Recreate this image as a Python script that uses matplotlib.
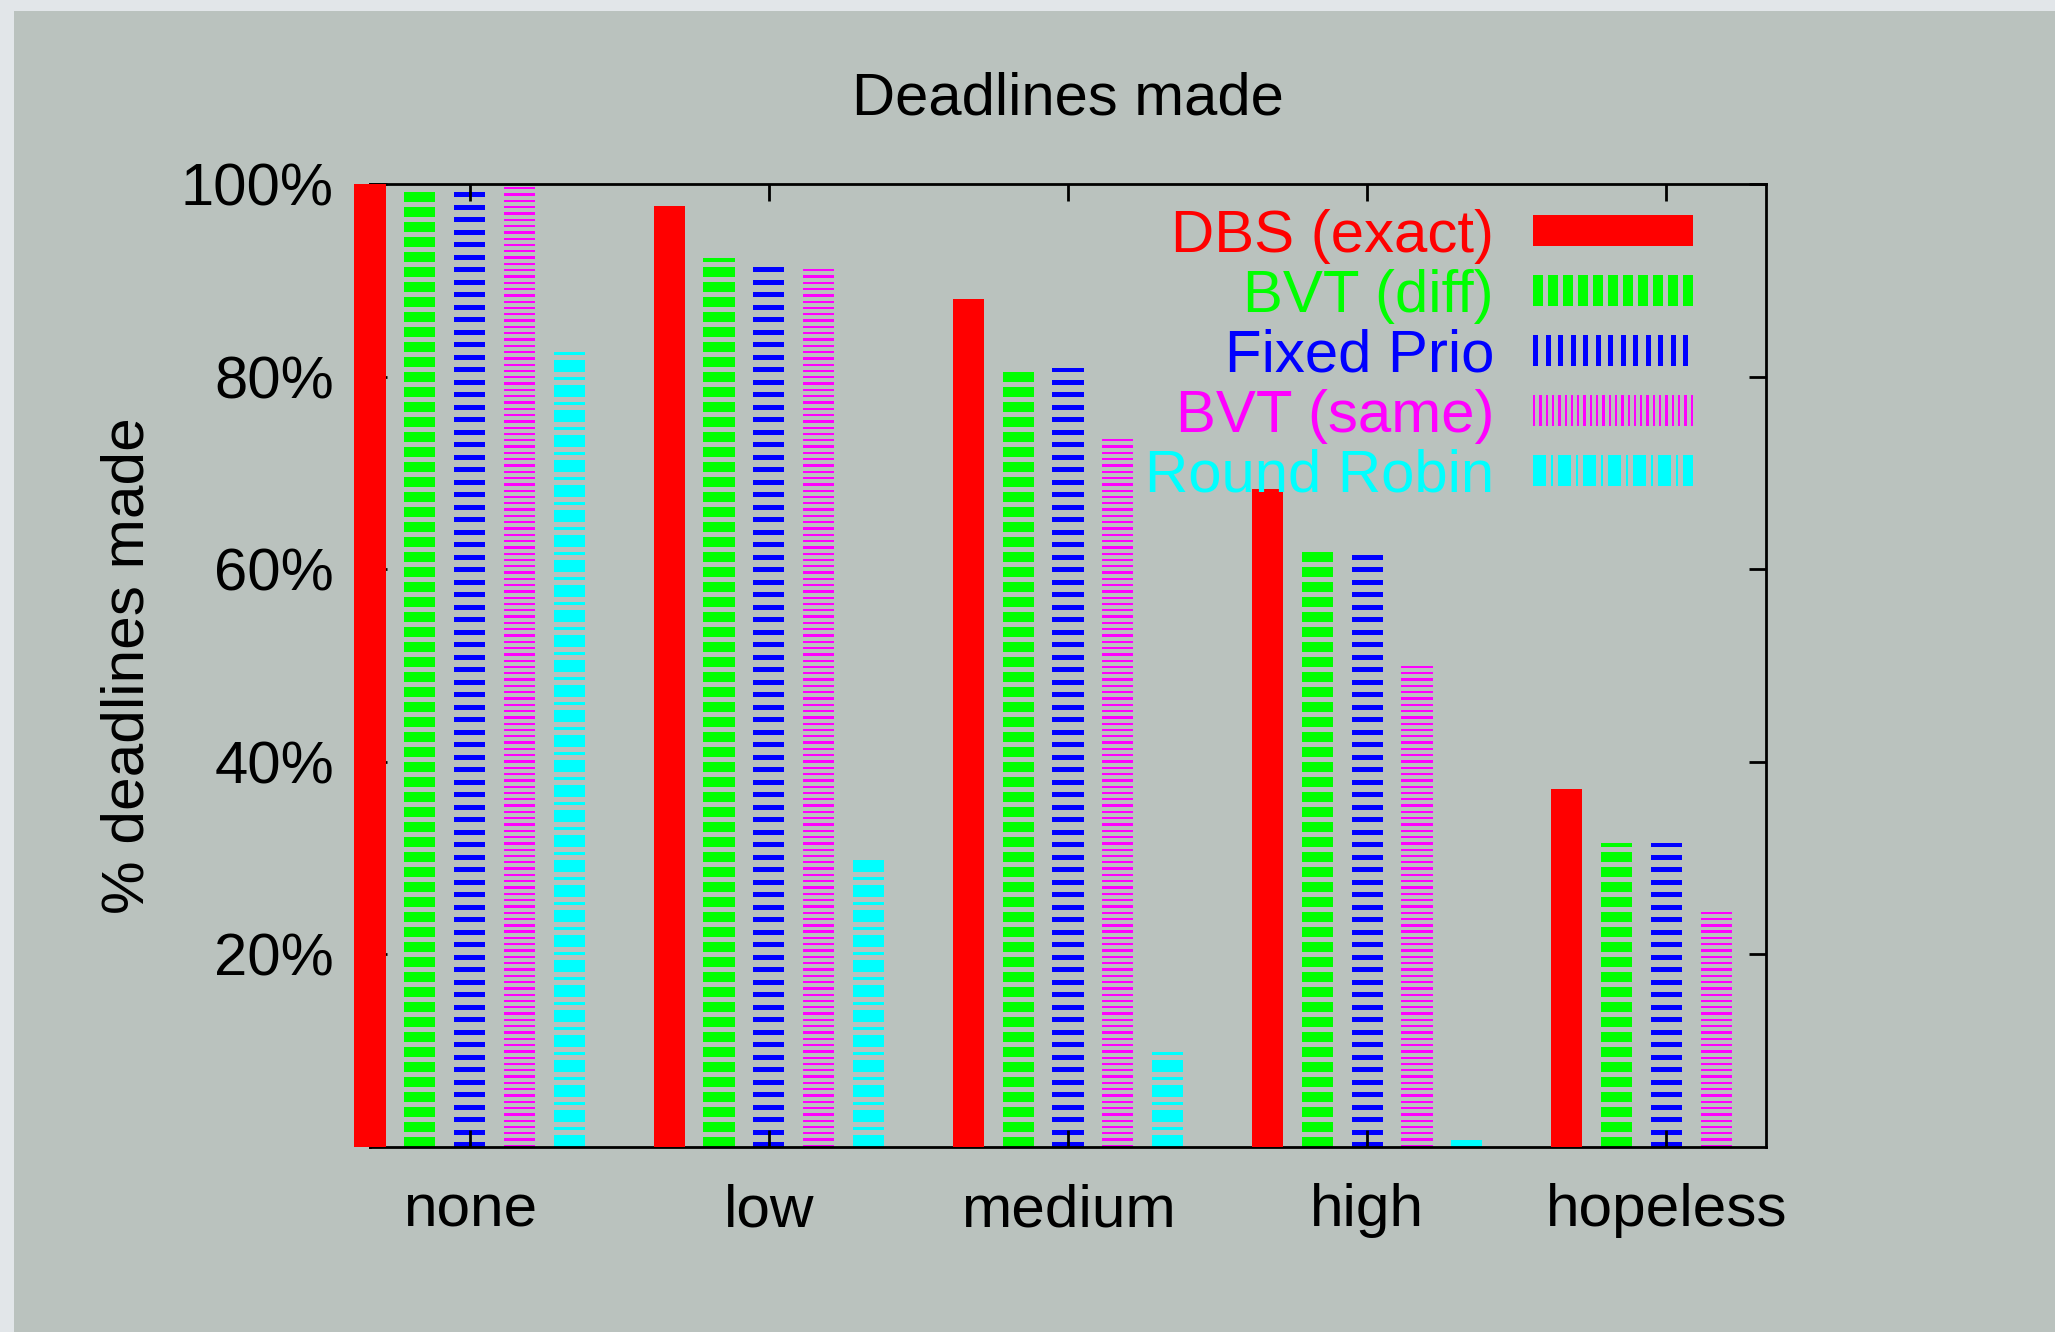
import numpy as np
import matplotlib
matplotlib.use('Agg')
import matplotlib.pyplot as plt
from matplotlib.patches import Rectangle

# Data
groups = ['none', 'low', 'medium', 'high', 'hopeless']
series = ['DBS (exact)', 'BVT (diff)', 'Fixed Prio', 'BVT (same)', 'Round Robin']
colors = ['#ff0000', '#00ff00', '#0000ff', '#ff00ff', '#00ffff']

dbs_exact = [100.0, 97.7, 88.1, 68.3, 37.2]
bvt_diff = [99.5, 92.3, 80.7, 61.9, 31.6]
fixed_prio = [99.5, 91.6, 80.9, 61.8, 31.6]
bvt_same = [99.8, 91.5, 73.7, 50.2, 24.5]
round_robin = [82.8, 29.8, 10.0, 0.7, 0.0]

yticks = [20, 40, 60, 80, 100]
ytick_labels = ['20%', '40%', '60%', '80%', '100%']

all_values = [dbs_exact, bvt_diff, fixed_prio, bvt_same, round_robin]

# gnuplot-like fill patterns, in pixels: (period, [(start, stop), ...]), None = solid
patterns = [None,
            (15, [(0, 10)]),
            (12.5, [(0, 5)]),
            (6.3, [(0, 2.3)]),
            (25, [(0, 12.5), (17.5, 20)])]


def stripe_segments(length, pattern):
    # filled pieces between 0 and length (pixels)
    if pattern is None:
        return np.array([0.0]), np.array([length])
    period, bands = pattern
    starts, sizes = [], []
    k = 0.0
    while k < length:
        for a, b in bands:
            lo = k + a
            hi = min(k + b, length)
            if hi > lo:
                starts.append(lo)
                sizes.append(hi - lo)
        k += period
    return np.array(starts), np.array(sizes)


plt.rcParams['font.family'] = ['Liberation Sans', 'DejaVu Sans']

W, H = 2055, 1332
fig = plt.figure(figsize=(W / 100, H / 100), dpi=100, facecolor='#e2e6e9')
fig.patches.append(Rectangle((14 / W, 0), 1, 1 - 11 / H, transform=fig.transFigure,
                             facecolor='#bac2be', edgecolor='none', zorder=-10))

ax_l, ax_r, ax_t, ax_b = 370, 1766, 184, 1147
ax_w, ax_h = ax_r - ax_l, ax_b - ax_t
ax = fig.add_axes([ax_l / W, 1 - ax_b / H, ax_w / W, ax_h / H])
ax.set_facecolor('none')
ax.set_xlim(-1 / 3, 4 + 1 / 3)
ax.set_ylim(0, 100)

ypx = ax_h / 100.0  # pixels per percent
offsets = [-2 / 6, -1 / 6, 0, 1 / 6, 2 / 6]
bar_w = 0.104

for i, vals in enumerate(all_values):
    for j, v in enumerate(vals):
        if v <= 0:
            continue
        starts, sizes = stripe_segments(v * ypx, patterns[i])
        ax.bar(np.full(len(starts), j + offsets[i]), sizes / ypx, bottom=starts / ypx,
               width=bar_w, color=colors[i], linewidth=0, clip_on=False,
               zorder=3 if i == 0 else 1)

# legend drawn by hand (vertical stripes like the original)
for i, name in enumerate(series):
    base_px = 252 + 60 * i
    ax.text((1494 - ax_l) / ax_w, (ax_b - base_px) / ax_h, name, transform=ax.transAxes,
            ha='right', va='baseline', color=colors[i], fontsize=43.2)
    cy = 230.5 + 60 * i
    starts, sizes = stripe_segments(160, patterns[i])
    for s, w in zip(starts, sizes):
        ax.add_patch(Rectangle(((1533 + s - ax_l) / ax_w, (ax_b - cy - 15.5) / ax_h),
                               w / ax_w, 31 / ax_h, transform=ax.transAxes,
                               facecolor=colors[i], edgecolor='none', clip_on=False, zorder=4))

ax.set_xticks(range(len(groups)))
ax.set_xticklabels(groups)
ax.set_yticks(yticks)
ax.set_yticklabels(ytick_labels)
ax.tick_params(direction='in', top=True, right=True, length=12, width=2)
ax.tick_params(axis='x', pad=26, labelsize=43.5)
ax.tick_params(axis='y', pad=26, labelsize=43)
for sp in ax.spines.values():
    sp.set_linewidth(2)

ax.set_title('Deadlines made', fontsize=43, pad=50)
ax.set_ylabel('% deadlines made', fontsize=43.5)
ax.yaxis.set_label_coords((155 - ax_l) / ax_w, 0.5)

fig.savefig('out.png', dpi=100, facecolor=fig.get_facecolor())
